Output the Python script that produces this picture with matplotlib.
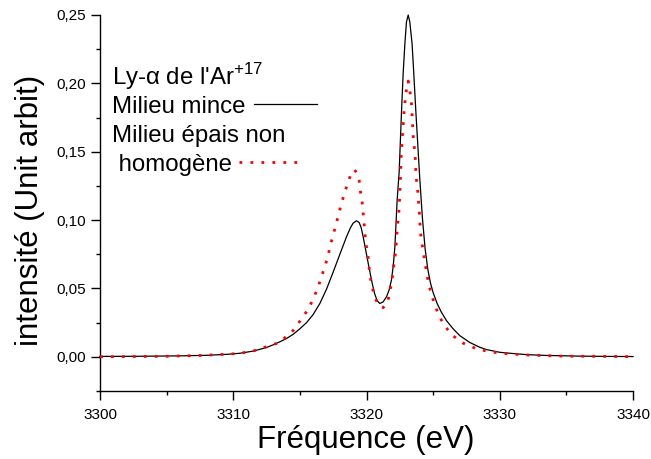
import numpy as np
import matplotlib
matplotlib.use("Agg")
import matplotlib.pyplot as plt
from matplotlib.lines import Line2D
from matplotlib.ticker import MultipleLocator, FuncFormatter

plt.rcParams['font.family'] = ['Liberation Sans', 'DejaVu Sans']
plt.rcParams['mathtext.fontset'] = 'custom'
plt.rcParams['mathtext.rm'] = 'Liberation Sans'

# thin medium (black solid line)
x_mince = [3300.0, 3303.0, 3306.0, 3308.0, 3309.5, 3310.5, 3311.5, 3312.5, 3313.0,
           3313.5, 3314.0, 3314.5, 3315.0, 3315.5, 3316.0, 3316.5, 3317.0, 3317.5,
           3318.0, 3318.5, 3318.8, 3319.0, 3319.25, 3319.45, 3319.6, 3319.75, 3320.13,
           3320.4, 3320.6, 3320.8, 3321.0, 3321.25, 3321.5, 3321.7, 3321.87, 3322.0,
           3322.13, 3322.3, 3322.45, 3322.63, 3322.75, 3322.88, 3323.0, 3323.13, 3323.25,
           3323.42, 3323.55, 3323.7, 3323.85, 3324.0, 3324.2, 3324.4, 3324.6, 3324.8,
           3325.0, 3325.3, 3325.6, 3326.0, 3326.5, 3327.0, 3327.75, 3328.5, 3329.0,
           3330.0, 3331.0, 3332.0, 3333.5, 3336.0, 3338.0, 3340.0]
y_mince = [0.0003, 0.0004, 0.0007, 0.0011, 0.0018, 0.0026, 0.0042, 0.0068, 0.0088,
           0.011, 0.0134, 0.0165, 0.0205, 0.025, 0.031, 0.039, 0.0495, 0.062,
           0.075, 0.0878, 0.0945, 0.0978, 0.0995, 0.0982, 0.0945, 0.0878, 0.0683,
           0.055, 0.0465, 0.041, 0.039, 0.0402, 0.0439, 0.049, 0.0561, 0.066,
           0.0805, 0.1146, 0.135, 0.18, 0.207, 0.229, 0.245, 0.25, 0.245,
           0.229, 0.207, 0.18, 0.155, 0.13, 0.101, 0.079, 0.064, 0.054,
           0.047, 0.039, 0.033, 0.0265, 0.0205, 0.0155, 0.0105, 0.0070, 0.0053,
           0.0033, 0.0024, 0.0016, 0.001, 0.0005, 0.0003, 0.0002]

# thick non-homogeneous medium (red dotted line)
x_epais = [3300.0, 3302.5, 3305.0, 3307.5, 3309.1, 3310.0, 3310.75, 3311.55, 3312.4,
           3313.25, 3313.7, 3314.5, 3315.1, 3315.63, 3316.0, 3316.33, 3316.6, 3316.85,
           3317.1, 3317.27, 3317.48, 3317.7, 3317.9, 3318.1, 3318.33, 3318.58, 3318.85,
           3319.1, 3319.3, 3319.45, 3319.55, 3319.67, 3319.8, 3319.95, 3320.1, 3320.25,
           3320.42, 3320.6, 3320.95, 3321.25, 3321.57, 3321.87, 3322.0, 3322.07, 3322.2,
           3322.3, 3322.45, 3322.55, 3322.6, 3322.7, 3322.8, 3322.87, 3322.95, 3323.13,
           3323.28, 3323.38, 3323.42, 3323.5, 3323.65, 3323.72, 3323.83, 3323.95, 3324.0,
           3324.03, 3324.13, 3324.25, 3324.38, 3324.5, 3324.65, 3324.85, 3325.1, 3325.4,
           3325.8, 3326.42, 3327.25, 3328.2, 3329.0, 3329.8, 3330.63, 3331.5, 3332.3,
           3333.1, 3334.75, 3336.3, 3338.0, 3340.0]
y_epais = [0.0, 0.0002, 0.0004, 0.001, 0.0017, 0.0022, 0.003, 0.0044, 0.0071,
           0.0098, 0.0125, 0.0193, 0.0274, 0.0349, 0.0424, 0.05, 0.0578, 0.0654,
           0.0732, 0.081, 0.0885, 0.0963, 0.1039, 0.1115, 0.119, 0.1268, 0.134,
           0.1368, 0.134, 0.129, 0.1207, 0.1134, 0.1, 0.083, 0.0751, 0.0598,
           0.0517, 0.0439, 0.037, 0.036, 0.039, 0.0537, 0.0622, 0.0695, 0.0773,
           0.0927, 0.1085, 0.1317, 0.147, 0.162, 0.177, 0.1846, 0.1927, 0.2017,
           0.1927, 0.1846, 0.177, 0.162, 0.147, 0.1317, 0.123, 0.1078, 0.1,
           0.0927, 0.0849, 0.0775, 0.0695, 0.0622, 0.0541, 0.0464, 0.0386, 0.031,
           0.0235, 0.0159, 0.01, 0.0061, 0.0042, 0.003, 0.0022, 0.0017, 0.0012,
           0.001, 0.0005, 0.0004, 0.0003, 0.0001]

W, H = 651, 459
fig = plt.figure(figsize=(W / 100, H / 100), dpi=100)
ax = fig.add_axes([100 / W, 1 - 391 / H, 533 / W, 376 / H])

dots = (0, (1, 2.95))
ax.plot(x_mince, y_mince, color='black', lw=0.9, clip_on=False, zorder=3)
ax.plot(x_epais, y_epais, color='red', lw=2.0, linestyle=dots, clip_on=False, zorder=4)

ax.set_xlim(3300, 3340)
ax.set_ylim(-0.025, 0.25)
ax.spines['top'].set_visible(False)
ax.spines['right'].set_visible(False)
for s in ['left', 'bottom']:
    ax.spines[s].set_linewidth(1.0)

ax.xaxis.set_major_locator(MultipleLocator(10))
ax.xaxis.set_minor_locator(MultipleLocator(5))
ax.yaxis.set_major_locator(MultipleLocator(0.05))
ax.yaxis.set_minor_locator(MultipleLocator(0.025))
ax.yaxis.set_major_formatter(FuncFormatter(lambda v, p: ("%.2f" % v).replace('.', ',')))
ax.xaxis.set_major_formatter(FuncFormatter(lambda v, p: "%d" % v))
ax.tick_params(which='major', direction='out', length=6.2, width=1.0, labelsize=11, pad=4)
ax.tick_params(which='minor', direction='out', length=3, width=1.0)
ax.tick_params(axis='x', which='major', pad=6)

# axis titles
fig.text(366 / W, 1 - 440 / H, 'Fréquence (eV)', fontsize=22.5, ha='center', va='center')
fig.text(30 / W, 1 - 210 / H, 'intensité (Unit arbit)', fontsize=22.5, rotation=90,
         ha='center', va='center')

# legend text block
fs = 17.3
fig.text(112 / W, 1 - 84.6 / H, "Ly-α de l'Ar$^{\\mathregular{+17}}$", fontsize=fs, va='baseline')
fig.text(112 / W, 1 - 113.3 / H, 'Milieu mince', fontsize=fs, va='baseline')
fig.text(112 / W, 1 - 142 / H, 'Milieu épais non', fontsize=fs, va='baseline')
fig.text(112 / W, 1 - 170.7 / H, ' homogène', fontsize=fs, va='baseline')
fig.add_artist(Line2D([254 / W, 317 / W], [1 - 104.3 / H, 1 - 104.3 / H],
                      transform=fig.transFigure, color='black', lw=0.9))
fig.add_artist(Line2D([239 / W, 302 / W], [1 - 161.7 / H, 1 - 161.7 / H],
                      transform=fig.transFigure, color='red', lw=2.0, linestyle=dots))

fig.savefig('out.png', dpi=100)
